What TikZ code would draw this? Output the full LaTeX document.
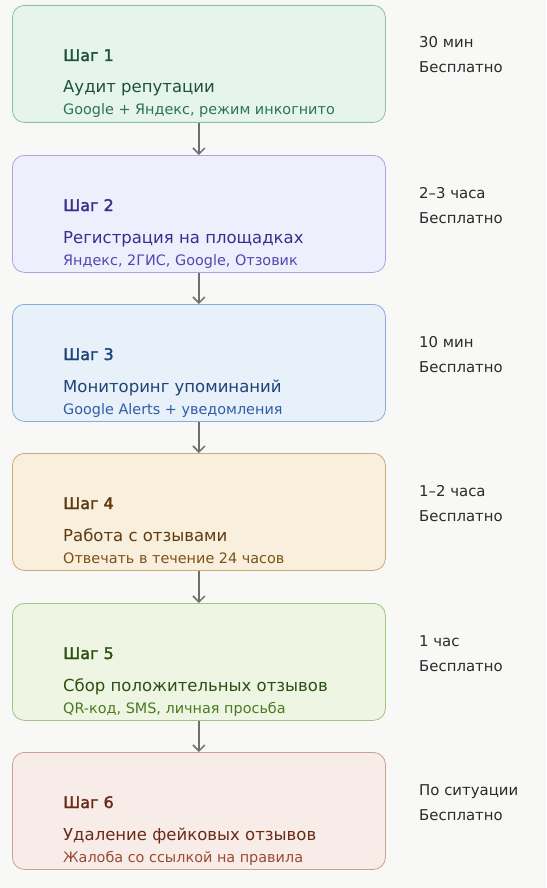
\documentclass[tikz,border=0pt]{standalone}
\usepackage{fontspec}
\setmainfont{DejaVu Sans}
\newfontface\headfont[FakeBold=2]{DejaVu Sans}
\usetikzlibrary{arrows.meta}
\definecolor{bg}{HTML}{F8F8F6}
\definecolor{fA}{HTML}{E6F4EE}\definecolor{dA}{HTML}{8CBFA4}\definecolor{tA}{HTML}{1F5238}\definecolor{sA}{HTML}{2E7352}
\definecolor{fB}{HTML}{EFEEFC}\definecolor{dB}{HTML}{ABA3E2}\definecolor{tB}{HTML}{3A2E8C}\definecolor{sB}{HTML}{5446B0}
\definecolor{fC}{HTML}{E8F0FA}\definecolor{dC}{HTML}{8AABD6}\definecolor{tC}{HTML}{1D4478}\definecolor{sC}{HTML}{2C5FA6}
\definecolor{fD}{HTML}{F8EFDD}\definecolor{dD}{HTML}{CAAA76}\definecolor{tD}{HTML}{5E3A10}\definecolor{sD}{HTML}{7E5118}
\definecolor{fE}{HTML}{EEF5E2}\definecolor{dE}{HTML}{A2C286}\definecolor{tE}{HTML}{2D4F14}\definecolor{sE}{HTML}{4A7A22}
\definecolor{fF}{HTML}{F8ECE8}\definecolor{dF}{HTML}{CAA092}\definecolor{tF}{HTML}{6A2A16}\definecolor{sF}{HTML}{9A4A30}
\definecolor{arr}{HTML}{6E6E6C}\definecolor{side}{HTML}{2A2A2A}
\tikzset{
  stepbox/.style={draw, line width=0.8pt, rounded corners=12pt, minimum width=373pt, minimum height=117pt, anchor=north west, inner sep=0pt},
  head/.style={anchor=base west, inner sep=0pt, font=\fontsize{16}{18}\headfont},
  ttl/.style={anchor=base west, inner sep=0pt, font=\fontsize{16.5}{18}\selectfont},
  sub/.style={anchor=base west, inner sep=0pt, font=\fontsize{14.4}{16}\selectfont},
  sidetxt/.style={anchor=base west, inner sep=0pt, text=side, font=\fontsize{14.9}{17}\selectfont},
  conn/.style={draw=arr, line width=1.5pt, -{Straight Barb[length=6pt,width=12pt,line width=1.5pt]}}
}
\begin{document}
\begin{tikzpicture}[x=1pt,y=-1pt]
\fill[bg] (0,0) rectangle (546,888);
\useasboundingbox (0,0) rectangle (546,888);
\foreach \i/\t/\c/\h/\ti/\su/\ra in {
 1/5/A/Шаг 1/Аудит репутации/{Google + Яндекс, режим инкогнито}/30 мин,
 2/155/B/Шаг 2/Регистрация на площадках/{Яндекс, 2ГИС, Google, Отзовик}/2–3 часа,
 3/304/C/Шаг 3/Мониторинг упоминаний/{Google Alerts + уведомления}/10 мин,
 4/453/D/Шаг 4/Работа с отзывами/{Отвечать в течение 24 часов}/1–2 часа,
 5/603/E/Шаг 5/Сбор положительных отзывов/{QR-код, SMS, личная просьба}/1 час,
 6/752/F/Шаг 6/Удаление фейковых отзывов/{Жалоба со ссылкой на правила}/По ситуации}{
  \node[stepbox, fill=f\c, draw=d\c] (b\i) at (12,\t) {};
  \node[head, text=t\c] (h\i) at (63,\t+56) {\h};
  \node[ttl, text=t\c] (t\i) at (63,\t+88) {\ti};
  \node[sub, text=s\c] (s\i) at (63,\t+110) {\su};
  \node[sidetxt] (r\i) at (419,\t+43) {\ra};
  \node[sidetxt] (p\i) at (419,\t+68) {Бесплатно};
}
\foreach \a/\b in {1/2,2/3,3/4,4/5,5/6}{
  \draw[conn] (b\a.south) -- (b\b.north);
}
\end{tikzpicture}
\end{document}
